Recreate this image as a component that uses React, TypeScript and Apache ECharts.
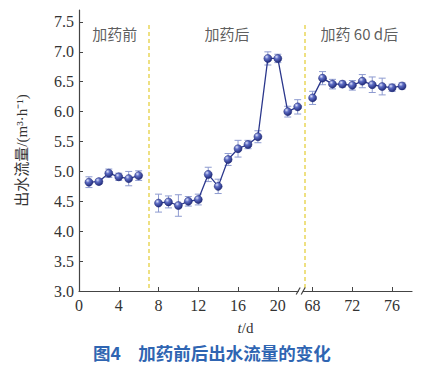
import React, { useEffect, useRef } from "react";
import * as echarts from "echarts";

// ---- data ----
const days = [1, 2, 3, 4, 5, 6, 8, 9, 10, 11, 12, 13, 14, 15, 16, 17, 18, 19, 20, 21, 22, 68, 69, 70, 71, 72, 73, 74, 75, 76, 77];
const flow = [4.82, 4.83, 4.97, 4.91, 4.88, 4.93, 4.47, 4.49, 4.43, 4.50, 4.53, 4.95, 4.75, 5.20, 5.38, 5.45, 5.58, 6.89, 6.89, 6.00, 6.08, 6.23, 6.56, 6.46, 6.46, 6.44, 6.51, 6.45, 6.42, 6.40, 6.43];
const errs = [0.09, 0.04, 0.07, 0.06, 0.12, 0.08, 0.15, 0.1, 0.18, 0.08, 0.09, 0.12, 0.12, 0.1, 0.14, 0.07, 0.1, 0.11, 0.07, 0.09, 0.12, 0.11, 0.11, 0.08, 0.05, 0.08, 0.11, 0.13, 0.14, 0.06, 0.05];
const groupStarts = [1, 8, 68];
const xTickLabels = [0, 4, 8, 12, 16, 20, 68, 72, 76];
const yTicks = [3.0, 3.5, 4.0, 4.5, 5.0, 5.5, 6.0, 6.5, 7.0, 7.5];
const dividers = [7, 67.26];
const breakAt = 66.8;
const regionLabels = [
  { day: 3.6, value: 7.31, text: "加药前" },
  { day: 14.9, value: 7.31, text: "加药后" },
  { day: 72.7, value: 7.31, text: "加药 60 d后" },
];
const SHIFT = 44.5; // days removed by the axis break
const X_MAX = 78;
const Y_MIN = 3;
const Y_MAX = 7.7;

const toVirt = (d: number) => (d > 40 ? d - SHIFT : d);
const fromVirt = (v: number) => (v > 22.1 ? v + SHIFT : v);

export default function App() {
  const ref = useRef<HTMLDivElement>(null);
  useEffect(() => {
    if (!ref.current) return;
    const chart = echarts.init(ref.current, null, { renderer: "svg" });

    // line data with gaps between groups
    const lineData: any[] = [];
    days.forEach((d, i) => {
      if (i > 0 && groupStarts.includes(d)) lineData.push([toVirt(d) - 0.5, "-"]);
      lineData.push([toVirt(d), flow[i]]);
    });
    const errData = days.map((d, i) => [toVirt(d), flow[i] - errs[i], flow[i] + errs[i]]);

    const serif = "'Liberation Serif', 'Times New Roman', 'Noto Sans CJK SC', serif";
    const ball = new echarts.graphic.RadialGradient(0.35, 0.3, 0.75, [
      { offset: 0, color: "#dfe4fb" },
      { offset: 0.35, color: "#5d6cc4" },
      { offset: 1, color: "#1d2775" },
    ]);

    chart.setOption({
      animation: false,
      grid: { left: 79, top: 10, right: 24, bottom: 80, containLabel: false },
      xAxis: {
        type: "value",
        min: 0,
        max: toVirt(X_MAX),
        name: "{i|t}/d",
        nameLocation: "middle",
        nameGap: 29,
        nameTextStyle: {
          fontFamily: serif,
          fontSize: 15,
          color: "#333",
          rich: { i: { fontStyle: "italic", fontFamily: serif, fontSize: 15, color: "#333" } },
        },
        axisLine: { lineStyle: { color: "#444", width: 1.2 } },
        axisTick: { inside: true, length: 4, lineStyle: { color: "#444" }, customValues: xTickLabels.map(toVirt) },
        axisLabel: {
          customValues: xTickLabels.map(toVirt),
          formatter: (v: number) => String(Math.round(fromVirt(v))),
          fontFamily: serif,
          fontSize: 16,
          color: "#333",
          margin: 6,
        },
        splitLine: { show: false },
      },
      yAxis: {
        type: "value",
        min: Y_MIN,
        max: Y_MAX,
        name: "出水流量/(m³·h⁻¹)",
        nameLocation: "middle",
        nameGap: 50,
        nameTextStyle: { fontFamily: serif, fontSize: 15, color: "#333" },
        axisLine: { show: true, lineStyle: { color: "#444", width: 1.2 } },
        axisTick: { inside: true, length: 4, lineStyle: { color: "#444" }, customValues: yTicks },
        axisLabel: {
          customValues: yTicks,
          formatter: (v: number) => v.toFixed(1),
          fontFamily: serif,
          fontSize: 16,
          color: "#333",
          margin: 5,
        },
        splitLine: { show: false },
      },
      series: [
        {
          type: "custom",
          name: "err",
          z: 1,
          clip: false,
          data: errData,
          renderItem: (params: any, api: any) => {
            const x = api.value(0);
            const lo = api.coord([x, api.value(1)]);
            const hi = api.coord([x, api.value(2)]);
            const w = 3.5;
            const style = { stroke: "#8e9bd0", lineWidth: 1 };
            return {
              type: "group",
              children: [
                { type: "line", shape: { x1: lo[0], y1: lo[1], x2: hi[0], y2: hi[1] }, style },
                { type: "line", shape: { x1: lo[0] - w, y1: lo[1], x2: lo[0] + w, y2: lo[1] }, style },
                { type: "line", shape: { x1: hi[0] - w, y1: hi[1], x2: hi[0] + w, y2: hi[1] }, style },
              ],
            };
          },
        },
        {
          type: "line",
          name: "flow",
          z: 3,
          data: lineData,
          connectNulls: false,
          symbol: "circle",
          symbolSize: 8,
          showAllSymbol: true,
          lineStyle: { color: "#2b378c", width: 1.3 },
          itemStyle: { color: ball, borderColor: "#1d2775", borderWidth: 0.5 },
          markLine: {
            silent: true,
            symbol: "none",
            label: { show: false },
            lineStyle: { color: "#e9d65a", type: [4, 3], width: 1.5 },
            data: dividers.map((d) => [
              { coord: [toVirt(d), 7.45] },
              { coord: [toVirt(d), Y_MIN] },
            ]),
          },
        },
        {
          type: "scatter",
          name: "labels",
          symbolSize: 0,
          z: 4,
          data: regionLabels.map((r) => ({ value: [toVirt(r.day), r.value], name: r.text })),
          label: {
            show: true,
            position: "inside",
            formatter: (p: any) => p.name,
            fontFamily: "'Noto Sans CJK SC', sans-serif",
            fontSize: 15,
            color: "#333",
          },
        },
        {
          type: "custom",
          name: "break",
          z: 5,
          clip: false,
          data: [[toVirt(breakAt), Y_MIN]],
          renderItem: (params: any, api: any) => {
            const p = api.coord([api.value(0), api.value(1)]);
            const style = { stroke: "#444", lineWidth: 1.2 };
            return {
              type: "group",
              children: [
                { type: "rect", shape: { x: p[0] - 2, y: p[1] - 1.5, width: 4, height: 3 }, style: { fill: "#fff" } },
                { type: "line", shape: { x1: p[0] - 4.5, y1: p[1] + 3.5, x2: p[0] - 0.5, y2: p[1] - 3.5 }, style },
                { type: "line", shape: { x1: p[0] + 0.5, y1: p[1] + 3.5, x2: p[0] + 4.5, y2: p[1] - 3.5 }, style },
              ],
            };
          },
        },
      ],
      graphic: [
        {
          type: "text",
          left: 93,
          top: 344,
          style: {
            text: "图4　加药前后出水流量的变化",
            fontFamily: "'Noto Sans CJK SC', sans-serif",
            fontSize: 17.5,
            fontWeight: "bold",
            fill: "#2f65b2",
          },
        },
      ],
    });
    return () => chart.dispose();
  }, []);
  return (
    <div
      ref={ref}
      style={{ position: "fixed", left: 0, top: 0, width: 436, height: 371, background: "#fff" }}
    />
  );
}
